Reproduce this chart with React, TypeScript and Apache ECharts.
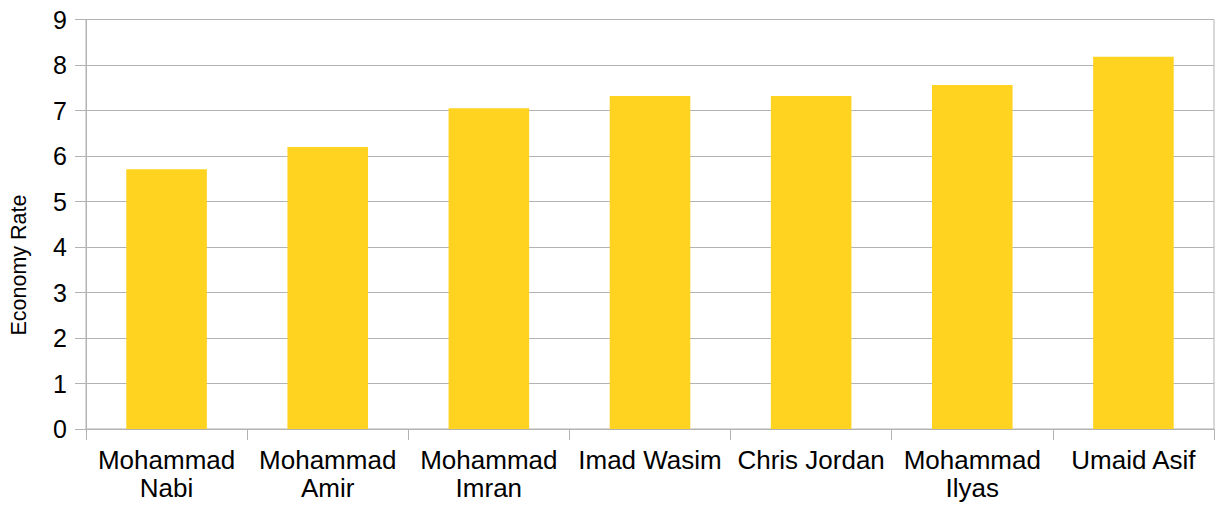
import React, { useEffect, useRef } from "react";
import * as echarts from "echarts";

const categories = [
  "Mohammad\nNabi",
  "Mohammad\nAmir",
  "Mohammad\nImran",
  "Imad Wasim",
  "Chris Jordan",
  "Mohammad\nIlyas",
  "Umaid Asif",
];
const economyRate = [5.71, 6.2, 7.05, 7.32, 7.32, 7.56, 8.18];
const yAxisTitle = "Economy Rate";

export default function App() {
  const ref = useRef<HTMLDivElement>(null);
  useEffect(() => {
    if (!ref.current) return;
    const chart = echarts.init(ref.current, undefined, { renderer: "svg" });
    const font = "'Liberation Sans', Arial, sans-serif";
    chart.setOption({
      animation: false,
      backgroundColor: "#ffffff",
      grid: {
        left: 86,
        right: 3,
        top: 19.5,
        bottom: 81,
        show: true,
        borderColor: "#b3b3b3",
        borderWidth: 1,
        containLabel: false,
      },
      xAxis: {
        type: "category",
        data: categories,
        axisLine: { show: true, lineStyle: { color: "#b3b3b3", width: 1 } },
        axisTick: {
          show: true,
          length: 11,
          inside: false,
          alignWithLabel: false,
          lineStyle: { color: "#b3b3b3" },
        },
        axisLabel: {
          interval: 0,
          margin: 17,
          color: "#000000",
          fontSize: 26,
          lineHeight: 28,
          fontFamily: font,
        },
        splitLine: { show: false },
      },
      yAxis: {
        type: "value",
        min: 0,
        max: 9,
        interval: 1,
        axisLine: { show: true, lineStyle: { color: "#b3b3b3", width: 1 } },
        axisTick: { show: true, length: 11, lineStyle: { color: "#b3b3b3" } },
        axisLabel: {
          margin: 19,
          color: "#000000",
          fontSize: 25,
          fontFamily: font,
        },
        splitLine: { show: true, lineStyle: { color: "#b3b3b3", width: 1 } },
      },
      graphic: [
        {
          type: "text",
          x: 19,
          y: 265,
          rotation: Math.PI / 2,
          style: {
            text: yAxisTitle,
            fontSize: 21.5,
            fontFamily: font,
            fill: "#000000",
            align: "center",
            verticalAlign: "middle",
          },
        },
      ],
      series: [
        {
          type: "bar",
          data: economyRate,
          barWidth: "50%",
          itemStyle: { color: "#ffd320" },
        },
      ],
    });
    return () => chart.dispose();
  }, []);
  return (
    <div
      ref={ref}
      style={{ position: "absolute", left: 0, top: 0, width: 1217, height: 510 }}
    />
  );
}
